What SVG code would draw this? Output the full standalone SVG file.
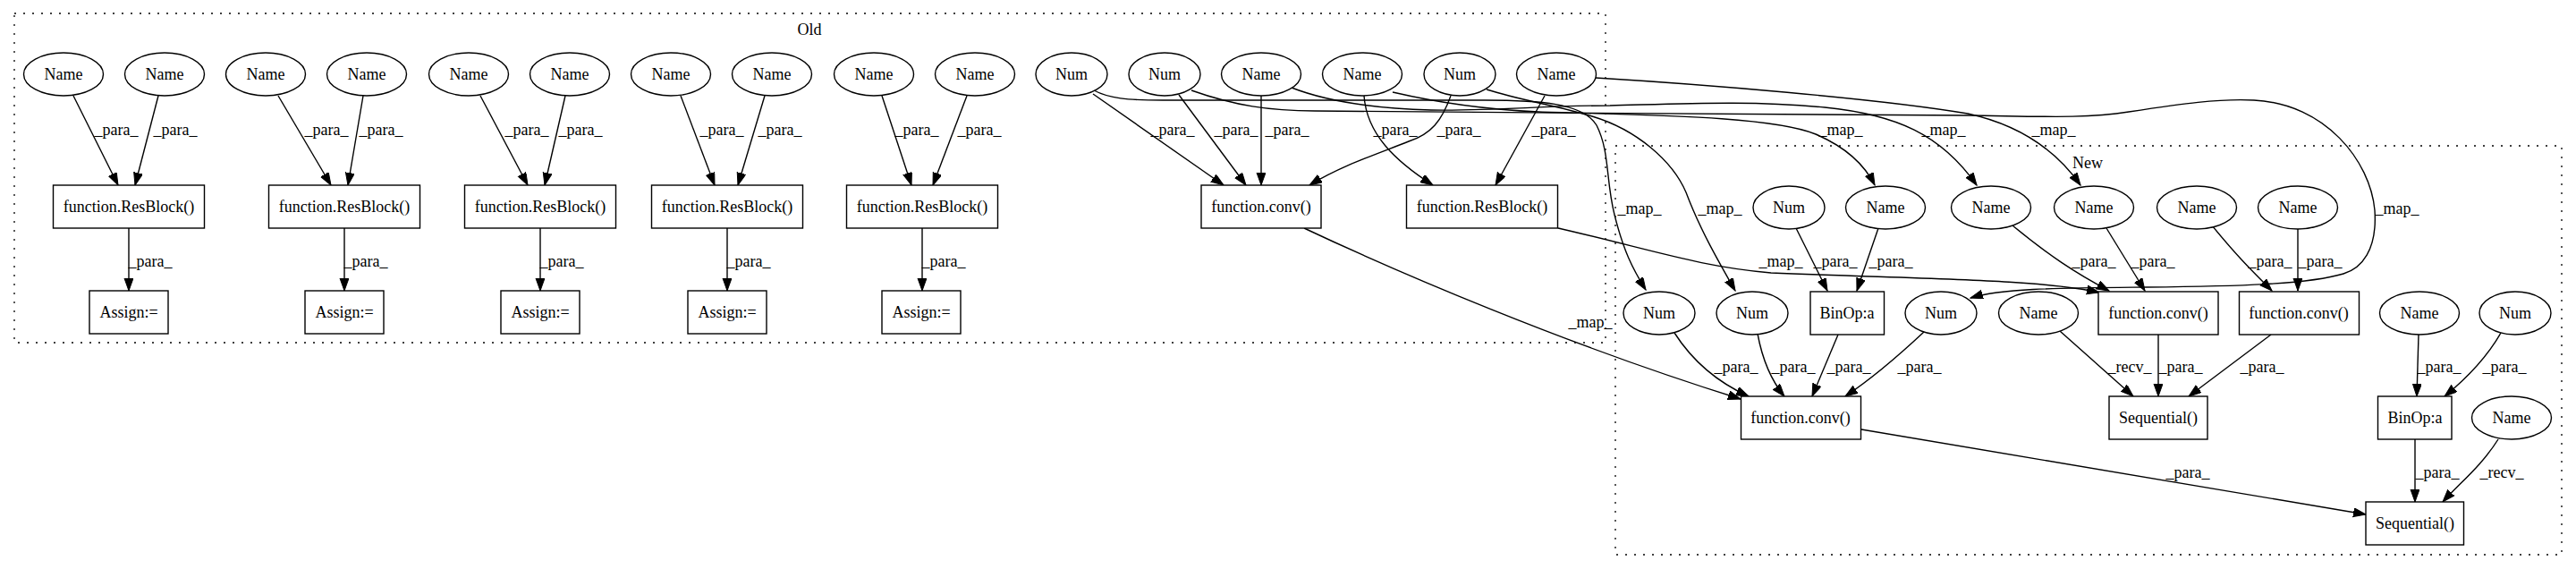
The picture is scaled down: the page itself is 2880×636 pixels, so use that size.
<svg xmlns="http://www.w3.org/2000/svg" width="2880" height="636" viewBox="0 0 2880 636">
<style>
.bg{fill:#fff}
.cl{fill:none;stroke:#000;stroke-width:1.3;stroke-dasharray:2,8}
.nd ellipse,.nd rect{fill:#fff;stroke:#000;stroke-width:1.4}
text{font-family:"Liberation Serif","Times New Roman",serif;font-size:18px;fill:#000;text-anchor:middle}
.e path{fill:none;stroke:#000;stroke-width:1.4;marker-end:url(#ah)}
</style>
<defs>
<marker id="ah" markerUnits="userSpaceOnUse" markerWidth="16" markerHeight="12" refX="14" refY="5" orient="auto">
<path d="M0,0 L14,5 L0,10 Z" fill="#000" stroke="#000" stroke-width="1"/>
</marker>
</defs>
<rect class="bg" x="0" y="0" width="2880" height="636"/>
<g id="clusters">
<rect class="cl" x="16" y="15" width="1779" height="368"/>
<text x="905" y="39">Old</text>
<rect class="cl" x="1806" y="163" width="1058" height="457"/>
<text x="2334" y="188">New</text>
</g>
<g id="connectors" class="e">
<!-- Old ResBlock groups -->
<path d="M82,107 L132,207"/><path d="M177,107 L151,207"/><path d="M144,255 L144,325"/>
<path d="M311,107 L370,207"/><path d="M406,107 L389,207"/><path d="M385,255 L385,325"/>
<path d="M537,107 L590,207"/><path d="M632,107 L609,207"/><path d="M604,255 L604,325"/>
<path d="M761,107 L799,207"/><path d="M855,107 L825,207"/><path d="M813,255 L813,325"/>
<path d="M986,107 L1019,207"/><path d="M1081,107 L1043,207"/><path d="M1031,255 L1031,325"/>
<!-- Old right -->
<path d="M1222,105 L1368,207"/>
<path d="M1318,106 L1393,207"/>
<path d="M1410,107 L1410,207"/>
<path d="M1622,107 C1612,135 1600,150 1575,158 C1540,172 1500,185 1464,207"/>
<path d="M1525,107 C1528,150 1560,180 1602,207"/>
<path d="M1727,107 L1672,207"/>
<!-- map edges -->
<path d="M1223,101 C1240,110 1260,112 1300,112 L1660,112 C1720,112 1770,115 1785,140 C1800,170 1795,200 1805,240 C1815,280 1825,300 1840,324"/>
<path d="M1662,100 C1700,112 1740,118 1780,130 C1830,145 1870,180 1885,215 C1900,255 1920,290 1940,325"/>
<path d="M1332,101 C1380,118 1420,124 1470,124 C1700,126 2000,128 2200,129 C2280,130 2330,133 2380,125 C2440,116 2480,110 2520,112 C2600,116 2650,180 2655,235 C2658,280 2640,300 2620,306 C2580,318 2500,320 2400,321 C2300,322 2240,322 2203,333"/>
<path d="M1444,98 C1480,112 1530,121 1600,123 C1680,124 1720,118 1800,118 C1880,116 1960,112 2040,120 C2120,128 2170,150 2210,207"/>
<path d="M1557,103 C1600,113 1650,122 1720,125 C1850,129 1980,130 2030,150 C2065,165 2085,185 2096,207"/>
<path d="M1784,87 C1900,94 2100,110 2200,127 C2260,140 2300,170 2326,207"/>
<path d="M1458,255 C1560,303 1750,385 1946,446"/>
<path d="M1742,255 C1850,280 1900,298 1980,305 C2150,312 2280,312 2347,327"/>
<!-- New internal -->
<path d="M2008,255 L2043,325"/>
<path d="M2100,255 L2076,325"/>
<path d="M2250,252 C2290,285 2320,305 2358,325"/>
<path d="M2355,255 L2398,325"/>
<path d="M2473,252 C2500,285 2515,300 2540,325"/>
<path d="M2569,256 L2569,325"/>
<path d="M1872,372 C1890,400 1915,425 1955,443"/>
<path d="M1965,373 C1970,400 1980,425 1995,443"/>
<path d="M2055,374 L2026,443"/>
<path d="M2151,371 C2120,400 2090,425 2063,443"/>
<path d="M2303,370 L2385,443"/>
<path d="M2413,374 L2413,443"/>
<path d="M2539,374 L2447,443"/>
<path d="M2704,374 L2702,443"/>
<path d="M2796,372 C2780,400 2755,425 2733,443"/>
<path d="M2700,491 L2700,561"/>
<path d="M2793,491 C2775,520 2750,540 2731,561"/>
<path d="M2081,480 L2645,575"/>
</g>
<g id="edge-labels">
<text x="130" y="151">_para_</text><text x="196" y="151">_para_</text><text x="168" y="298">_para_</text>
<text x="365" y="151">_para_</text><text x="426" y="151">_para_</text><text x="409" y="298">_para_</text>
<text x="589" y="151">_para_</text><text x="649" y="151">_para_</text><text x="628" y="298">_para_</text>
<text x="807" y="151">_para_</text><text x="872" y="151">_para_</text><text x="837" y="298">_para_</text>
<text x="1025" y="151">_para_</text><text x="1095" y="151">_para_</text><text x="1055" y="298">_para_</text>
<text x="1311" y="151">_para_</text><text x="1382" y="151">_para_</text><text x="1439" y="151">_para_</text>
<text x="1560" y="151">_para_</text><text x="1631" y="151">_para_</text><text x="1737" y="151">_para_</text>
<text x="1833" y="239">_map_</text><text x="1923" y="239">_map_</text>
<text x="2058" y="151">_map_</text><text x="2173" y="151">_map_</text><text x="2296" y="151">_map_</text>
<text x="2680" y="239">_map_</text><text x="1991" y="298">_map_</text><text x="1778" y="366">_map_</text>
<text x="2052" y="298">_para_</text><text x="2114" y="298">_para_</text><text x="2341" y="298">_para_</text>
<text x="2407" y="298">_para_</text><text x="2538" y="298">_para_</text><text x="2594" y="298">_para_</text>
<text x="1941" y="416">_para_</text><text x="2005" y="416">_para_</text><text x="2067" y="416">_para_</text>
<text x="2146" y="416">_para_</text><text x="2381" y="416">_recv_</text><text x="2438" y="416">_para_</text>
<text x="2529" y="416">_para_</text><text x="2727" y="416">_para_</text><text x="2800" y="416">_para_</text>
<text x="2446" y="534">_para_</text><text x="2725" y="534">_para_</text><text x="2797" y="534">_recv_</text>
</g>
<!-- Old nodes -->
<g id="old_name1" class="nd"><ellipse cx="71" cy="83" rx="44.5" ry="24"/><text x="71" y="89">Name</text></g>
<g id="old_name2" class="nd"><ellipse cx="184" cy="83" rx="44.5" ry="24"/><text x="184" y="89">Name</text></g>
<g id="old_res1" class="nd"><rect x="59.5" y="207" width="169" height="48"/><text x="144" y="237">function.ResBlock()</text></g>
<g id="old_assign1" class="nd"><rect x="100" y="325" width="88" height="48"/><text x="144" y="355">Assign:=</text></g>
<g id="old_name3" class="nd"><ellipse cx="297" cy="83" rx="44.5" ry="24"/><text x="297" y="89">Name</text></g>
<g id="old_name4" class="nd"><ellipse cx="410" cy="83" rx="44.5" ry="24"/><text x="410" y="89">Name</text></g>
<g id="old_res2" class="nd"><rect x="300.5" y="207" width="169" height="48"/><text x="385" y="237">function.ResBlock()</text></g>
<g id="old_assign2" class="nd"><rect x="341" y="325" width="88" height="48"/><text x="385" y="355">Assign:=</text></g>
<g id="old_name5" class="nd"><ellipse cx="524" cy="83" rx="44.5" ry="24"/><text x="524" y="89">Name</text></g>
<g id="old_name6" class="nd"><ellipse cx="637" cy="83" rx="44.5" ry="24"/><text x="637" y="89">Name</text></g>
<g id="old_res3" class="nd"><rect x="519.5" y="207" width="169" height="48"/><text x="604" y="237">function.ResBlock()</text></g>
<g id="old_assign3" class="nd"><rect x="560" y="325" width="88" height="48"/><text x="604" y="355">Assign:=</text></g>
<g id="old_name7" class="nd"><ellipse cx="750" cy="83" rx="44.5" ry="24"/><text x="750" y="89">Name</text></g>
<g id="old_name8" class="nd"><ellipse cx="863" cy="83" rx="44.5" ry="24"/><text x="863" y="89">Name</text></g>
<g id="old_res4" class="nd"><rect x="728.5" y="207" width="169" height="48"/><text x="813" y="237">function.ResBlock()</text></g>
<g id="old_assign4" class="nd"><rect x="769" y="325" width="88" height="48"/><text x="813" y="355">Assign:=</text></g>
<g id="old_name9" class="nd"><ellipse cx="977" cy="83" rx="44.5" ry="24"/><text x="977" y="89">Name</text></g>
<g id="old_name10" class="nd"><ellipse cx="1090" cy="83" rx="44.5" ry="24"/><text x="1090" y="89">Name</text></g>
<g id="old_res5" class="nd"><rect x="946.5" y="207" width="169" height="48"/><text x="1031" y="237">function.ResBlock()</text></g>
<g id="old_assign5" class="nd"><rect x="986" y="325" width="88" height="48"/><text x="1030" y="355">Assign:=</text></g>
<g id="old_num1" class="nd"><ellipse cx="1198" cy="83" rx="40" ry="24"/><text x="1198" y="89">Num</text></g>
<g id="old_num2" class="nd"><ellipse cx="1302" cy="83" rx="40" ry="24"/><text x="1302" y="89">Num</text></g>
<g id="old_name11" class="nd"><ellipse cx="1410" cy="83" rx="44.5" ry="24"/><text x="1410" y="89">Name</text></g>
<g id="old_name12" class="nd"><ellipse cx="1523" cy="83" rx="44.5" ry="24"/><text x="1523" y="89">Name</text></g>
<g id="old_num3" class="nd"><ellipse cx="1632" cy="83" rx="40" ry="24"/><text x="1632" y="89">Num</text></g>
<g id="old_name13" class="nd"><ellipse cx="1740" cy="83" rx="44.5" ry="24"/><text x="1740" y="89">Name</text></g>
<g id="old_conv" class="nd"><rect x="1343" y="207" width="134" height="48"/><text x="1410" y="237">function.conv()</text></g>
<g id="old_res6" class="nd"><rect x="1572.5" y="207" width="169" height="48"/><text x="1657" y="237">function.ResBlock()</text></g>
<!-- New nodes -->
<g id="new_num1" class="nd"><ellipse cx="2000" cy="232" rx="40" ry="24"/><text x="2000" y="238">Num</text></g>
<g id="new_name1" class="nd"><ellipse cx="2108" cy="232" rx="44.5" ry="24"/><text x="2108" y="238">Name</text></g>
<g id="new_name2" class="nd"><ellipse cx="2226" cy="232" rx="44.5" ry="24"/><text x="2226" y="238">Name</text></g>
<g id="new_name3" class="nd"><ellipse cx="2341" cy="232" rx="44.5" ry="24"/><text x="2341" y="238">Name</text></g>
<g id="new_name4" class="nd"><ellipse cx="2456" cy="232" rx="44.5" ry="24"/><text x="2456" y="238">Name</text></g>
<g id="new_name5" class="nd"><ellipse cx="2569" cy="232" rx="44.5" ry="24"/><text x="2569" y="238">Name</text></g>
<g id="new_num2" class="nd"><ellipse cx="1855" cy="350" rx="40" ry="24"/><text x="1855" y="356">Num</text></g>
<g id="new_num3" class="nd"><ellipse cx="1959" cy="350" rx="40" ry="24"/><text x="1959" y="356">Num</text></g>
<g id="new_binop1" class="nd"><rect x="2024" y="326" width="82.5" height="48"/><text x="2065" y="356">BinOp:a</text></g>
<g id="new_num4" class="nd"><ellipse cx="2170" cy="350" rx="40" ry="24"/><text x="2170" y="356">Num</text></g>
<g id="new_name6" class="nd"><ellipse cx="2279" cy="350" rx="44.5" ry="24"/><text x="2279" y="356">Name</text></g>
<g id="new_conv2" class="nd"><rect x="2346" y="326" width="134" height="48"/><text x="2413" y="356">function.conv()</text></g>
<g id="new_conv3" class="nd"><rect x="2503.5" y="326" width="134" height="48"/><text x="2570" y="356">function.conv()</text></g>
<g id="new_name7" class="nd"><ellipse cx="2705" cy="350" rx="44.5" ry="24"/><text x="2705" y="356">Name</text></g>
<g id="new_num5" class="nd"><ellipse cx="2812" cy="350" rx="40" ry="24"/><text x="2812" y="356">Num</text></g>
<g id="new_conv1" class="nd"><rect x="1946.5" y="443" width="134" height="48"/><text x="2013" y="473">function.conv()</text></g>
<g id="new_seq1" class="nd"><rect x="2358" y="443" width="110" height="48"/><text x="2413" y="473">Sequential()</text></g>
<g id="new_binop2" class="nd"><rect x="2658.5" y="443" width="82.5" height="48"/><text x="2700" y="473">BinOp:a</text></g>
<g id="new_name8" class="nd"><ellipse cx="2808" cy="467" rx="44.5" ry="24"/><text x="2808" y="473">Name</text></g>
<g id="new_seq2" class="nd"><rect x="2645" y="561" width="109.5" height="48"/><text x="2700" y="591">Sequential()</text></g>
</svg>
